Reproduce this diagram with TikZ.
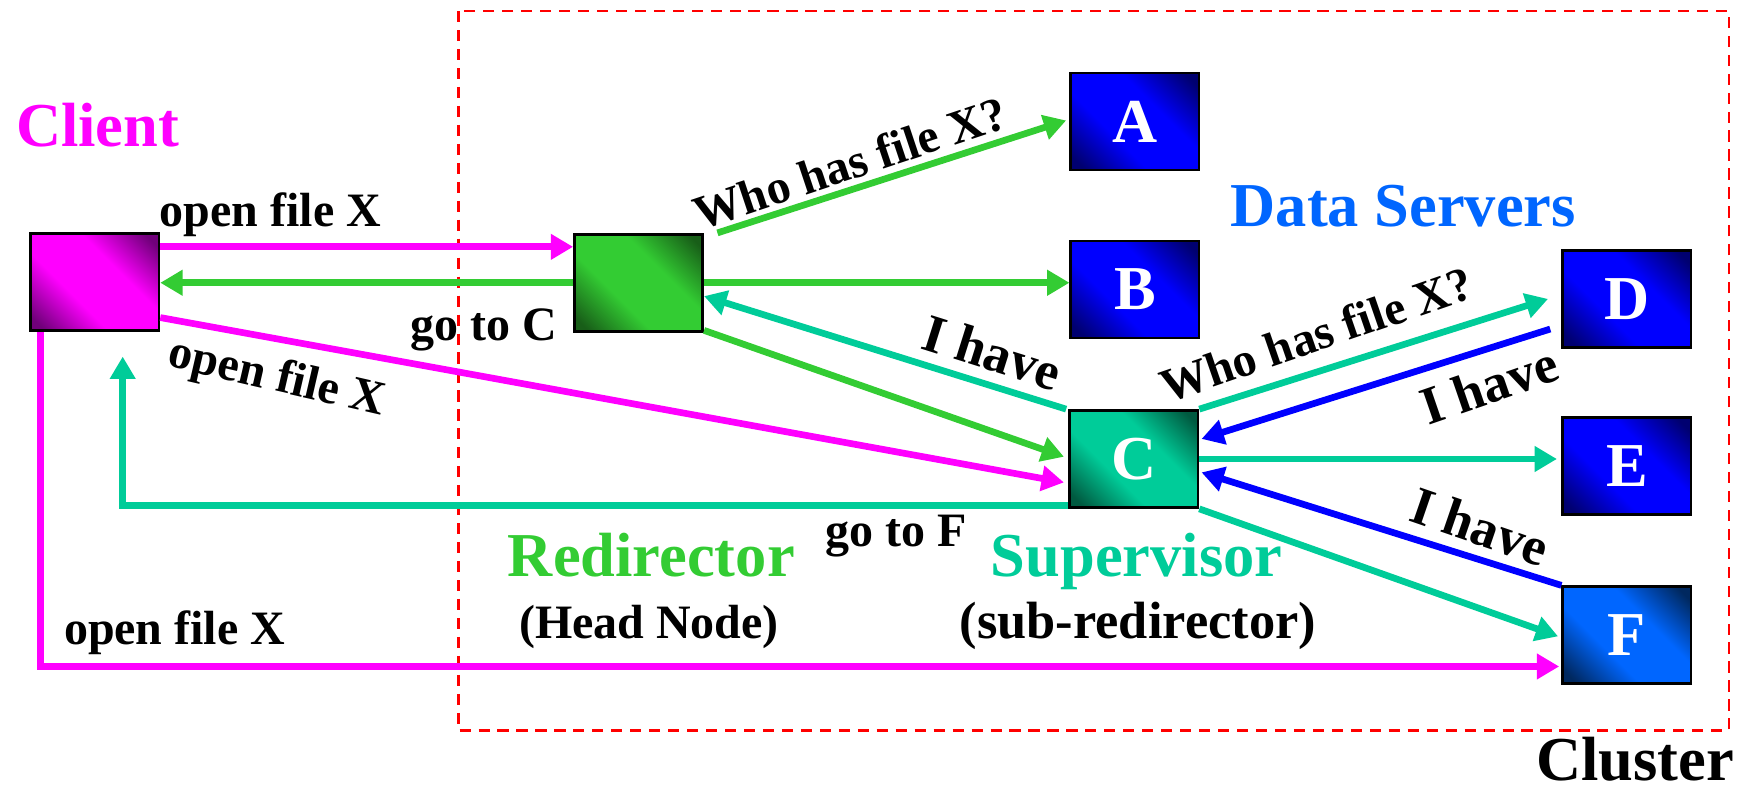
\documentclass[tikz,border=0pt]{standalone}
\usepackage{fontspec}
\setmainfont{Liberation Serif}
\usetikzlibrary{calc,arrows.meta}
\definecolor{mag}{HTML}{FF00FF}
\definecolor{magdk}{HTML}{70007A}
\definecolor{grn}{HTML}{33CC33}
\definecolor{grndk}{HTML}{185E18}
\definecolor{tea}{HTML}{00CC99}
\definecolor{teadk}{HTML}{005A40}
\definecolor{blu}{HTML}{0000FF}
\definecolor{bludk}{HTML}{000070}
\definecolor{sky}{HTML}{0066FF}
\definecolor{skydk}{HTML}{00285F}
\definecolor{clred}{HTML}{FF0000}
\pgfdeclarehorizontalshading{shmag}{100bp}{color(0bp)=(magdk); color(19bp)=(magdk); color(39bp)=(mag); color(61bp)=(mag); color(81bp)=(magdk); color(100bp)=(magdk)}
\pgfdeclarehorizontalshading{shgrn}{100bp}{color(0bp)=(grndk); color(19bp)=(grndk); color(39bp)=(grn); color(61bp)=(grn); color(81bp)=(grndk); color(100bp)=(grndk)}
\pgfdeclarehorizontalshading{shtea}{100bp}{color(0bp)=(teadk); color(19bp)=(teadk); color(39bp)=(tea); color(61bp)=(tea); color(81bp)=(teadk); color(100bp)=(teadk)}
\pgfdeclarehorizontalshading{shblu}{100bp}{color(0bp)=(bludk); color(19bp)=(bludk); color(39bp)=(blu); color(61bp)=(blu); color(81bp)=(bludk); color(100bp)=(bludk)}
\pgfdeclarehorizontalshading{shsky}{100bp}{color(0bp)=(skydk); color(19bp)=(skydk); color(39bp)=(sky); color(61bp)=(sky); color(81bp)=(skydk); color(100bp)=(skydk)}
\begin{document}
\begin{tikzpicture}[x=0.5pt,y=-0.5pt,
 srv/.style={draw=black, line width=1.2pt, minimum width=57.5pt, minimum height=43.5pt, inner sep=0pt,
   shading=#1, shading angle=45, text=white,
   font=\fontsize{28}{30}\selectfont\bfseries},
 conn/.style={line width=3pt, -{Triangle[length=10pt,width=11pt]}},
 lbl/.style={font=\fontsize{21.5}{24}\selectfont\bfseries, inner sep=0pt},
 lblh/.style={font=\fontsize{24}{26}\selectfont\bfseries, inner sep=0pt},
 ttl/.style={font=\fontsize{28}{30}\selectfont\bfseries, inner sep=0pt},
]
\useasboundingbox (0,0) rectangle (1568,710);
% cluster frame
\draw[clred, line width=1pt, dash pattern=on 5pt off 3.5pt] (411,10) rectangle (1550,655);

% boxes
\node[srv=shmag] (client) at (85,253) {};
\node[srv=shgrn] (redir) at (572.5,253.5) {};
\node[srv=shblu] (A) at (1017.5,109) {A};
\node[srv=shblu] (B) at (1017.5,259.5) {B};
\node[srv=shtea] (C) at (1016.5,411.5) {C};
\node[srv=shblu] (D) at (1458.5,268) {D};
\node[srv=shblu] (E) at (1458.5,418) {E};
\node[srv=shsky] (F) at (1458.5,569.5) {F};

% connectors
\coordinate (o1) at ($(client.north east)+(0,13)$);
\draw[conn,mag] (o1) -- (o1 -| redir.west);
\draw[conn,grn] (redir.west) -- (redir.west -| client.east);
\draw[conn,mag] ($(client.south east)+(0,-13)$) -- ($(C.west)+(-4,21)$);
\coordinate (tf) at ($(C.south west)+(0,-3)$);
\draw[conn,tea] (tf) -| ($(client.south)+(25,22)$);
\draw[conn,mag] ($(client.south west)+(10,0)$) |- ($(F.west)+(-2,28)$);
\draw[conn,grn] ($(redir.north east)+(12,0)$) -- ($(A.west)+(-3,-1)$);
\draw[conn,grn] (redir.east) -- (redir.east -| B.west);
\draw[conn,tea] ($(C.north west)+(-2,0)$) -- ($(redir.east)+(0,12)$);
\draw[conn,grn] ($(redir.south east)+(0,-2)$) -- ($(C.west)+(-4,-2)$);
\draw[conn,tea] (C.north east) -- ($(D.west)+(-12,0)$);
\draw[conn,blu] ($(D.west)+(-10,27)$) -- ($(C.east)+(2,-18)$);
\draw[conn,tea] (C.east) -- ($(C.east -| E.west)+(-4,0)$);
\draw[conn,blu] (F.north west) -- ($(C.east)+(2,12)$);
\draw[conn,tea] (C.south east) -- ($(F.west)+(-3,1)$);

% labels
\node[lbl, anchor=base west] (l1) at (143,203) {open file X};
\node[lbl, anchor=base east] (l2) at (500,305) {go to C};
\node[lbl, rotate=-13] (l3) at (248,340) {open file X};
\node[lbl, anchor=base west] (l4) at (740,490) {go to F};
\node[lbl, anchor=base west] (l5) at (57,578) {open file X};
\node[lbl, rotate=18.5] (l6) at (762,146) {Who has file X?};
\node[lblh, rotate=-17.5] (l7) at (890,316) {I have};
\node[lbl, rotate=19] (l8) at (1180,300) {Who has file X?};
\node[lblh, rotate=19] (l9) at (1335,345) {I have};
\node[lblh, rotate=-19] (l10) at (1327,472) {I have};

% titles
\node[ttl, text=mag, anchor=base west] (tclient) at (14,131) {Client};
\node[ttl, text=sky, anchor=base west] (tds) at (1103,203) {Data Servers};
\node[ttl, text=grn, anchor=base west] (trd) at (455,517) {Redirector};
\node[lbl, anchor=base west] (thn) at (465,572) {(Head Node)};
\node[ttl, text=tea, anchor=base west] (tsv) at (888,517) {Supervisor};
\node[lbl, font=\fontsize{23.5}{26}\selectfont\bfseries, anchor=base west] (tsr) at (860,572) {(sub-redirector)};
\node[ttl, anchor=base east] (tcl) at (1555,700) {Cluster};
\end{tikzpicture}
\end{document}
